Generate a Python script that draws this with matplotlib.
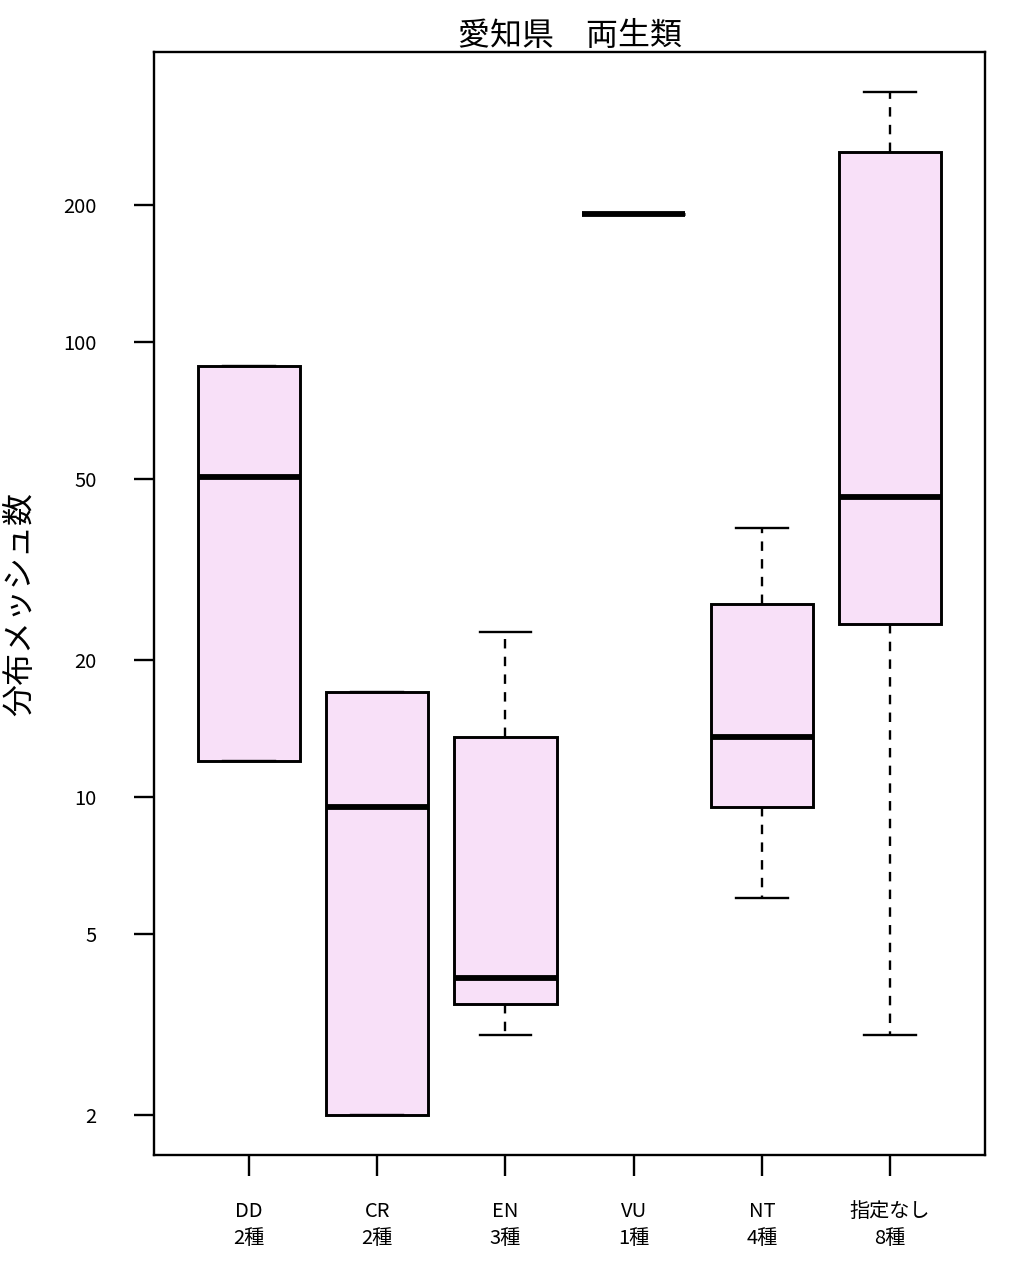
import matplotlib
matplotlib.use("Agg")
import matplotlib.pyplot as plt
from matplotlib.ticker import FixedLocator, NullLocator, FixedFormatter

plt.rcParams['font.family'] = ['Noto Sans CJK JP', 'DejaVu Sans']

# data (log scale)
categories = ['DD\n2種', 'CR\n2種', 'EN\n3種', 'VU\n1種', 'NT\n4種', '指定なし\n8種']
whisker_low = [12, 2, 3, 191, 6, 3]
q1 = [12, 2, 3.5, 191, 9.5, 24]
medians = [50.5, 9.5, 4.0, 191, 13.5, 45.5]
q3 = [88.5, 17, 13.5, 191, 26.5, 262]
whisker_high = [88.5, 17, 23, 191, 39, 354]
yticks = [2, 5, 10, 20, 50, 100, 200]

stats = []
for lab, lo, a, m, b, hi in zip(categories, whisker_low, q1, medians, q3, whisker_high):
    stats.append({'label': lab, 'whislo': lo, 'q1': a, 'med': m, 'q3': b, 'whishi': hi, 'fliers': []})

fig = plt.figure(figsize=(10.22, 12.74), dpi=100)
ax = fig.add_axes([154 / 1022, 1 - 1155 / 1274, (985 - 154) / 1022, (1155 - 52) / 1274])

ax.bxp(stats, widths=0.8, capwidths=0.4, patch_artist=True, showfliers=False,
       boxprops=dict(facecolor='#f8e0f8', edgecolor='black', linewidth=2.1),
       medianprops=dict(color='black', linewidth=4.2, solid_capstyle='butt'),
       whiskerprops=dict(color='black', linewidth=1.7, linestyle=(0, (4, 3.5))),
       capprops=dict(color='black', linewidth=1.7))

ax.set_yscale('log')
ax.set_ylim(1.63, 434)
ax.set_xlim(0.26, 6.74)
ax.yaxis.set_major_locator(FixedLocator(yticks))
ax.yaxis.set_major_formatter(FixedFormatter([str(t) for t in yticks]))
ax.yaxis.set_minor_locator(NullLocator())

for s in ax.spines.values():
    s.set_linewidth(1.7)

ax.tick_params(axis='y', direction='out', length=14.5, width=1.7, pad=27, labelsize=14.5)
ax.tick_params(axis='x', direction='out', length=15, width=1.7, pad=18, labelsize=14.5)
for t in ax.get_xticklabels():
    t.set_linespacing(1.4)

ax.set_title('愛知県　両生類', fontsize=23, pad=2)
ax.set_ylabel('分布メッシュ数', fontsize=23, labelpad=19)

fig.savefig('out.png', dpi=100)
